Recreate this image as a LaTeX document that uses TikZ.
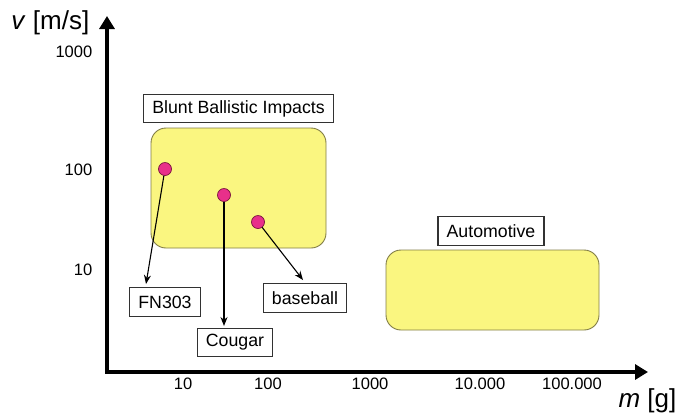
\documentclass[tikz,border=0pt]{standalone}
\usepackage{fontspec}
\setmainfont{Liberation Sans}
\usetikzlibrary{arrows.meta}
\definecolor{zone}{RGB}{250,246,128}
\definecolor{zoneb}{RGB}{130,125,70}
\definecolor{dotc}{RGB}{232,48,138}
\definecolor{dotb}{RGB}{120,20,60}
\definecolor{boxb}{RGB}{50,50,50}
\tikzset{
  lbl/.style={draw=boxb, line width=0.825pt, fill=white, inner xsep=6.5pt, inner ysep=0pt, minimum height=21.5pt, font=\fontsize{13.3}{15}\selectfont},
  zonebox/.style={draw=zoneb, fill=zone, line width=0.675pt, rounded corners=11.25pt},
  pt/.style={circle, draw=dotb, fill=dotc, line width=0.525pt, minimum size=9.75pt, inner sep=0pt},
  conn/.style={line width=0.825pt, -{Stealth[length=6.75pt,width=5.25pt]}},
  tick/.style={font=\fontsize{12.4}{14}\selectfont},
  axlab/.style={font=\fontsize{19.5}{22}\selectfont}
}
\begin{document}
\begin{tikzpicture}[x=0.75pt, y=-0.75pt]
\useasboundingbox (0,0) rectangle (680,412);
% axes
\draw[line width=2.4pt, {Triangle[length=9.75pt,width=11.25pt]}-{Triangle[length=9.75pt,width=11.25pt]}, line join=miter]
  (107,16) -- (107,372) -- (648,372);
\node[axlab, anchor=east] (vl) at (94,23) {\textit{v} [m/s]};
\node[axlab, anchor=east] (ml) at (681,401) {\textit{m} [g]};
% y ticks
\node[tick, anchor=east] (y1000) at (97,52) {1000};
\node[tick, anchor=east] (y100) at (97,170) {100};
\node[tick, anchor=east] (y10) at (97,270) {10};
% x ticks
\node[tick] (x10) at (183,384) {10};
\node[tick] (x100) at (268,384) {100};
\node[tick] (x1000) at (370,384) {1000};
\node[tick] (x10k) at (480,384) {10.000};
\node[tick] (x100k) at (572,384) {100.000};
% zones
\draw[zonebox] (151,128) rectangle (326,248);
\draw[zonebox] (386,250) rectangle (599,330);
\node[lbl] (blunt) at (238.5,108.5) {Blunt Ballistic Impacts};
\node[lbl] (auto) at (491,231) {Automotive};
% points
\node[pt] (d1) at (165,169) {};
\node[pt] (d2) at (224,195) {};
\node[pt] (d3) at (258,222) {};
% labels
\node[lbl] (fn) at (165,302) {FN303};
\node[lbl] (cg) at (235,342.5) {Cougar};
\node[lbl] (bb) at (305,298) {baseball};
\coordinate (fnT) at (146,284);
\coordinate (cgT) at (224,326);
\coordinate (bbT) at (303,280);
\draw[conn] (d1) -- (fnT);
\draw[conn] (d2) -- (cgT);
\draw[conn] (d3) -- (bbT);
\end{tikzpicture}
\end{document}
